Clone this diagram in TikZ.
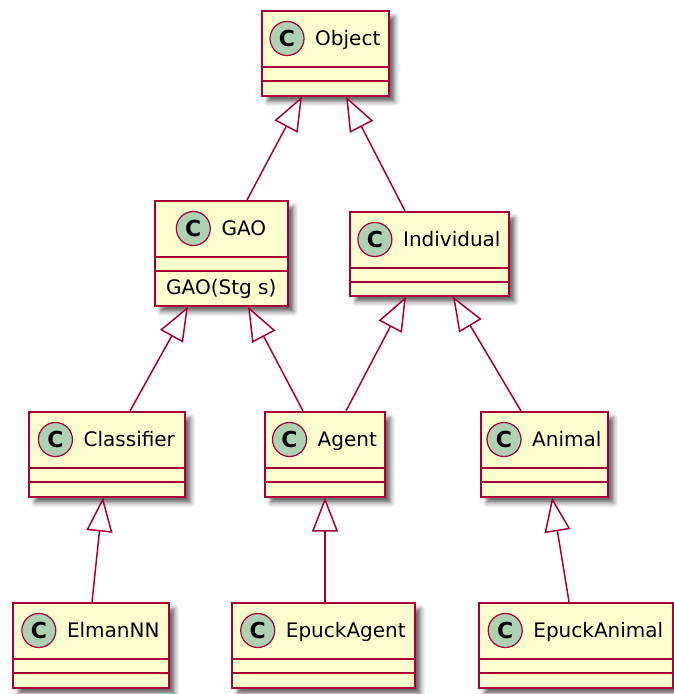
\documentclass[tikz,border=0pt]{standalone}
\usepackage{fontspec}
\setmainfont{DejaVu Sans}
\usetikzlibrary{arrows.meta,calc,shadows.blur}

\definecolor{umlfill}{HTML}{FEFECE}
\definecolor{umlborder}{HTML}{A80036}
\definecolor{umlicon}{HTML}{ADD1B2}

\tikzset{
  classbox/.style={draw=umlborder, fill=umlfill, line width=1.6pt, anchor=north west,
    inner sep=0pt,
    blur shadow={shadow xshift=6pt, shadow yshift=-6pt, shadow blur radius=4.5pt, shadow opacity=60}},
  classline/.style={draw=umlborder, line width=1.6pt},
  classname/.style={anchor=base, inner sep=0pt, font=\fontsize{20pt}{24pt}\selectfont},
  classicon/.style={circle, draw=umlborder, fill=umlicon, line width=1.2pt,
    minimum size=34pt, inner sep=0pt, font=\fontsize{22pt}{24pt}\selectfont\bfseries},
  inherits/.style={draw=umlborder, line width=1.5pt,
    -{Triangle[open, fill=white, length=34pt, width=26pt]}},
}

% class box: id, left, top, width, height, class name
\newcommand\umlclass[6]{%
  \node[classbox, minimum width=#4pt, minimum height=#5pt] (#1) at (#2,#3) {};
  \draw[classline] ([yshift=-57pt]#1.north west) -- ([yshift=-57pt]#1.north east);
  \draw[classline] ([yshift=-71pt]#1.north west) -- ([yshift=-71pt]#1.north east);
  \node[classname] (#1-name) at ($(#1.north)+(0,35.8)$) {\hspace*{45pt}#6};
  \node[classicon] (#1-icon) at ([xshift=17pt,yshift=7.3pt]#1-name.base west) {C};
}

\begin{document}
\begin{tikzpicture}[x=1pt, y=-1pt]
  \useasboundingbox (0,0) rectangle (673,694);

  \umlclass{object}{261}{10}{127}{85}{Object}
  \umlclass{gao}{154}{200}{133}{105}{GAO}
  \node[classname] (gao-ctor) at ($(gao.north)+(0,94)$) {GAO(Stg s)};
  \umlclass{individual}{349}{211}{159}{84}{Individual}

  \umlclass{classifier}{28}{411}{156}{85}{Classifier}
  \umlclass{agent}{264}{411}{120}{85}{Agent}
  \umlclass{animal}{480}{411}{127}{85}{Animal}

  \umlclass{elman}{12}{602}{156}{85}{ElmanNN}
  \umlclass{epuckagent}{231}{602}{183}{85}{EpuckAgent}
  \umlclass{epuckanimal}{478}{602}{194}{85}{EpuckAnimal}

  % generalisations, child -> parent
  \draw[inherits] ([xshift=93pt]gao.north west) -- ([xshift=41pt]object.south west);
  \draw[inherits] ([xshift=56pt]individual.north west) -- ([xshift=85pt]object.south west);
  \draw[inherits] ([xshift=102pt]classifier.north west) -- ([xshift=34pt]gao.south west);
  \draw[inherits] ([xshift=39pt]agent.north west) -- ([xshift=94pt]gao.south west);
  \draw[inherits] ([xshift=82pt]agent.north west) -- ([xshift=57pt]individual.south west);
  \draw[inherits] ([xshift=41pt]animal.north west) -- ([xshift=104pt]individual.south west);
  \draw[inherits] ([xshift=80pt]elman.north west) -- ([xshift=75pt]classifier.south west);
  \draw[inherits] ([xshift=94pt]epuckagent.north west) -- ([xshift=61pt]agent.south west);
  \draw[inherits] ([xshift=91pt]epuckanimal.north west) -- ([xshift=72pt]animal.south west);
\end{tikzpicture}
\end{document}
